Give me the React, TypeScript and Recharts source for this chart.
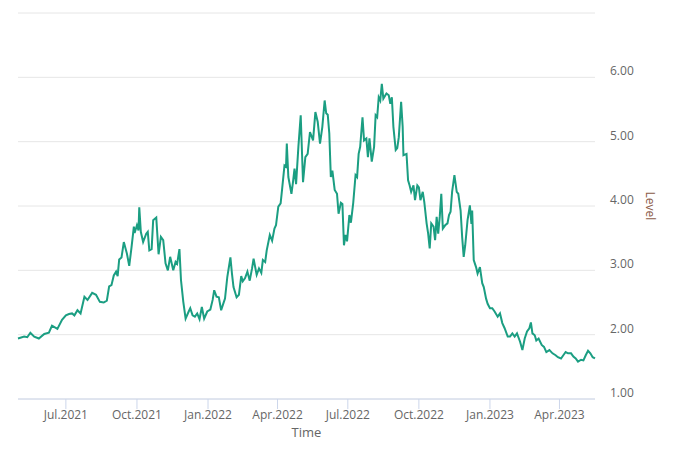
import React from 'react';
import { LineChart, Line, XAxis, YAxis, CartesianGrid, Label } from 'recharts';

// day offsets from START
const START = Date.UTC(2021, 3, 30);
const DAY = 86400000;

const dayOffsets = [
  0, 8, 12, 16, 21, 27, 34, 40, 44, 51, 57, 62, 66, 70, 73, 77, 81, 86, 90, 96,
  101, 106, 111, 115, 118, 121, 124, 127, 129, 131, 134, 137, 141, 144, 147, 150, 151, 154, 156, 157,
  159, 162, 166, 168, 170, 173, 175, 179, 182, 185, 188, 191, 194, 197, 201, 204, 206, 209, 211, 214,
  217, 221, 223, 226, 229, 232, 235, 238, 241, 245, 249, 252, 254, 257, 260, 263, 266, 268, 271, 275,
  277, 279, 283, 286, 289, 291, 294, 297, 300, 303, 305, 309, 312, 315, 317, 320, 322, 326, 329, 332,
  334, 337, 340, 342, 345, 347, 348, 350, 354, 356, 358, 360, 363, 366, 369, 372, 375, 378, 382, 385,
  388, 391, 394, 397, 399, 401, 403, 405, 407, 410, 413, 415, 418, 420, 422, 424, 426, 429, 431, 434,
  437, 439, 441, 443, 446, 448, 451, 453, 455, 458, 461, 463, 465, 467, 469, 471, 473, 477, 480, 482,
  484, 486, 489, 491, 493, 496, 498, 499, 503, 505, 507, 509, 512, 514, 517, 519, 521, 524, 526, 529,
  531, 533, 535, 538, 540, 542, 544, 546, 548, 550, 553, 556, 558, 560, 562, 565, 568, 570, 573, 575,
  577, 579, 582, 585, 587, 588, 590, 593, 595, 598, 601, 603, 606, 608, 611, 614, 617, 621, 624, 627,
  630, 634, 637, 640, 643, 646, 650, 653, 656, 659, 662, 664, 666, 669, 671, 674, 678, 681, 684, 688,
  692, 696, 699, 703, 706, 709, 712, 716, 719, 722, 725, 729, 732, 735, 738, 741, 744, 747,
];

const levels = [
  1.94, 1.97, 1.96, 2.03, 1.97, 1.94, 2.01, 2.03, 2.14, 2.09, 2.23, 2.30, 2.32, 2.33, 2.30, 2.38, 2.33, 2.59, 2.54, 2.65,
  2.62, 2.51, 2.50, 2.53, 2.75, 2.77, 2.92, 2.98, 2.91, 3.17, 3.20, 3.44, 3.26, 3.07, 3.36, 3.68, 3.58, 3.70, 3.62, 3.98,
  3.60, 3.44, 3.57, 3.60, 3.31, 3.33, 3.78, 3.82, 3.25, 3.52, 3.47, 3.11, 3.00, 3.21, 3.00, 3.13, 3.10, 3.33, 2.85, 2.51,
  2.25, 2.36, 2.41, 2.30, 2.28, 2.33, 2.24, 2.43, 2.25, 2.36, 2.39, 2.54, 2.69, 2.59, 2.58, 2.38, 2.49, 2.56, 2.90, 3.20,
  2.95, 2.74, 2.58, 2.62, 2.91, 2.83, 2.88, 2.98, 2.84, 3.03, 3.18, 2.93, 3.03, 2.96, 3.16, 3.13, 3.31, 3.55, 3.46, 3.65,
  3.70, 3.99, 4.04, 4.27, 4.63, 4.61, 4.97, 4.45, 4.19, 4.37, 4.58, 4.34, 4.92, 5.41, 4.37, 4.76, 4.81, 5.15, 5.02, 5.46,
  5.31, 4.97, 5.23, 5.64, 5.44, 5.42, 5.13, 4.45, 4.55, 4.25, 4.19, 3.88, 4.05, 4.03, 3.39, 3.55, 3.45, 3.86, 3.74, 4.05,
  4.48, 4.45, 4.81, 4.92, 5.38, 5.02, 5.05, 4.76, 5.05, 4.69, 4.92, 5.41, 5.38, 5.69, 5.64, 5.90, 5.67, 5.75, 5.72, 5.59,
  5.69, 5.23, 4.87, 4.90, 5.07, 5.62, 5.23, 4.79, 4.81, 4.40, 4.32, 4.22, 4.32, 4.09, 4.32, 4.29, 4.09, 4.22, 4.06, 3.73,
  3.57, 3.34, 3.73, 3.68, 3.47, 3.83, 3.57, 3.83, 4.19, 3.65, 3.70, 3.73, 3.86, 3.91, 4.22, 4.48, 4.22, 4.19, 3.93, 3.52,
  3.21, 3.39, 3.78, 4.01, 3.72, 3.93, 3.16, 3.05, 2.95, 3.05, 2.80, 2.74, 2.56, 2.48, 2.41, 2.41, 2.36, 2.28, 2.33, 2.18,
  2.10, 1.97, 1.97, 2.02, 1.97, 2.02, 1.89, 1.76, 1.94, 2.05, 2.10, 2.19, 2.02, 1.99, 1.91, 1.94, 1.84, 1.81, 1.73, 1.76,
  1.71, 1.68, 1.65, 1.63, 1.68, 1.73, 1.71, 1.71, 1.66, 1.63, 1.58, 1.61, 1.60, 1.68, 1.75, 1.71, 1.65, 1.63,
];

const xTickDates = [
  [2021, 6], [2021, 9], [2022, 0], [2022, 3], [2022, 6], [2022, 9], [2023, 0], [2023, 3],
];
const monthNames = ['Jan', 'Feb', 'Mar', 'Apr', 'May', 'Jun', 'Jul', 'Aug', 'Sep', 'Oct', 'Nov', 'Dec'];
const yTicks = [1, 2, 3, 4, 5, 6, 7];

const data = dayOffsets.map((d, i) => ({ t: START + d * DAY, level: levels[i] }));
const xTicks = xTickDates.map(([y, m]) => Date.UTC(y, m, 1));

const FONT = '"Open Sans", sans-serif';

const formatDate = (t: number) => {
  const d = new Date(t);
  return `${monthNames[d.getUTCMonth()]}.${d.getUTCFullYear()}`;
};

const YTick = ({ x, y, payload }: any) => {
  if (payload.value === 7) return <g />;
  return (
    <text x={x} y={y} dy={-2} fill="#666666" fontSize={12} fontFamily={FONT} textAnchor="start">
      {payload.value.toFixed(2)}
    </text>
  );
};

const XTitle = ({ viewBox }: any) => (
  <text
    x={viewBox.x + viewBox.width / 2}
    y={viewBox.y + 38}
    fill="#666666"
    fontSize={13}
    fontFamily={FONT}
    textAnchor="middle"
  >
    Time
  </text>
);

const YTitle = ({ viewBox }: any) => {
  const cx = viewBox.x + 55;
  const cy = viewBox.y + viewBox.height / 2;
  return (
    <text
      x={cx}
      y={cy}
      fill="#8c5b47"
      fontSize={12}
      fontFamily={FONT}
      textAnchor="middle"
      dominantBaseline="central"
      transform={`rotate(90 ${cx} ${cy})`}
    >
      Level
    </text>
  );
};

export default function App() {
  return (
    <div style={{ position: 'absolute', left: 0, top: 0, width: 682, height: 467, background: '#fff' }}>
      <LineChart width={682} height={467} data={data} margin={{ top: 13, right: 0, bottom: 0, left: 18 }}>
        <CartesianGrid horizontal vertical={false} stroke="#e6e6e6" />
        <XAxis
          dataKey="t"
          type="number"
          domain={['dataMin', 'dataMax']}
          ticks={xTicks}
          tickFormatter={formatDate}
          height={68}
          axisLine={{ stroke: '#ccd6eb' }}
          tickLine={{ stroke: '#ccd6eb' }}
          tickSize={10}
          tickMargin={1}
          tick={{ fill: '#666666', fontSize: 12, fontFamily: FONT }}
        >
          <Label content={<XTitle />} />
        </XAxis>
        <YAxis
          orientation="right"
          domain={[1, 7]}
          ticks={yTicks}
          width={87}
          axisLine={false}
          tickLine={false}
          tickSize={0}
          tickMargin={15}
          tick={<YTick />}
        >
          <Label content={<YTitle />} />
        </YAxis>
        <Line
          type="linear"
          dataKey="level"
          stroke="#1b9e82"
          strokeWidth={2}
          dot={false}
          isAnimationActive={false}
        />
      </LineChart>
    </div>
  );
}
